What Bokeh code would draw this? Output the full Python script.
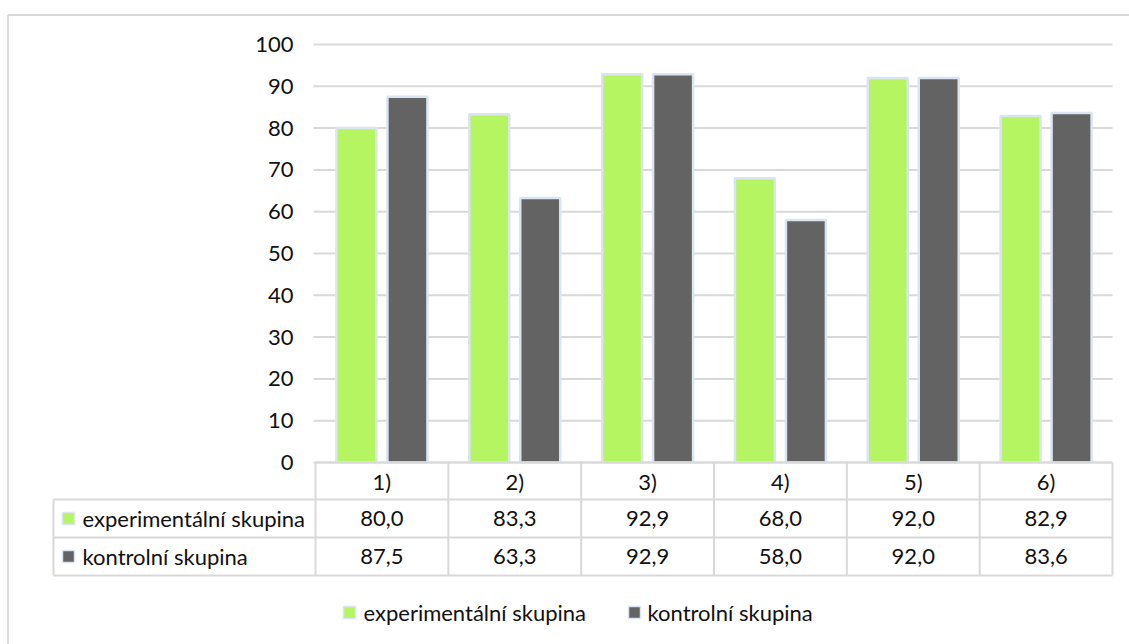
from bokeh.plotting import figure
from bokeh.models import Range1d, ColumnDataSource
from bokeh.core.properties import value
from bokeh.embed import file_html
from bokeh.resources import INLINE

# ---- data ----
categories = ["1)", "2)", "3)", "4)", "5)", "6)"]
series_names = ["experimentální skupina", "kontrolní skupina"]
experimental = [80.0, 83.3, 92.9, 68.0, 92.0, 82.9]
control = [87.5, 63.3, 92.9, 58.0, 92.0, 83.6]
y_ticks = [0, 10, 20, 30, 40, 50, 60, 70, 80, 90, 100]

# ---- styling ----
GREEN = "#b6f562"
GRAY = "#636363"
EDGE = "#dbe5f1"
LINE = "#d9d9d9"
FONT = "Lato"
FS = "22px"
TXT = "#111111"

W, H = 1129, 644
OX, OY = 0, 0
# pixel geometry (screen coordinates)
X0, X1 = 315.0, 1112.0          # plot area / table columns
Y0, Y100 = 462.0, 44.0          # value 0 and 100
n = len(categories)
ux = (X1 - X0) / n
uy = (Y0 - Y100) / 100.0

def dx(px):
    return (px - X0) / ux

def dy(py):
    return (Y0 - py) / uy

p = figure(width=W, height=H, output_backend="svg", toolbar_location=None,
           x_range=Range1d(dx(OX), dx(OX + W)), y_range=Range1d(dy(OY + H), dy(OY)),
           x_axis_type=None, y_axis_type=None, min_border=0)
p.outline_line_color = None
p.xgrid.visible = False
p.ygrid.visible = False
p.background_fill_color = "white"
p.border_fill_color = "white"

# outer chart border (left and top visible)
p.segment(x0=[dx(7.5), dx(7.5)], y0=[dy(14.5), dy(14.5)], x1=[dx(7.5), dx(1140)], y1=[dy(700), dy(14.5)],
          line_color=LINE, line_width=2)

# gridlines
p.segment(x0=[dx(313)] * len(y_ticks), x1=[dx(X1)] * len(y_ticks), y0=y_ticks, y1=y_ticks,
          line_color=LINE, line_width=2)

# y tick labels
p.text(x=[dx(293)] * len(y_ticks), y=y_ticks, text=[str(t) for t in y_ticks],
       text_align="right", text_baseline="middle", text_font=value(FONT),
       text_font_size=FS, text_color=TXT)

# bars
xc = [i + 0.5 for i in range(n)]
off = 25.5 / ux
bw = 40.0 / ux
src = ColumnDataSource(dict(xe=[x - off for x in xc], xk=[x + off for x in xc],
                            e=experimental, k=control))
p.vbar(x="xe", top="e", bottom=0, width=bw, source=src, fill_color=GREEN,
       line_color=EDGE, line_width=2.5)
p.vbar(x="xk", top="k", bottom=0, width=bw, source=src, fill_color=GRAY,
       line_color=EDGE, line_width=2.5)

# data table
rows = [Y0, 499.0, 537.0, 575.0]
p.segment(x0=[0, dx(53), dx(53), dx(53)], x1=[n, n, n, n], y0=[dy(r) for r in rows],
          y1=[dy(r) for r in rows], line_color=LINE, line_width=2)
vx = list(range(n + 1))
p.segment(x0=vx, x1=vx, y0=[0] * len(vx), y1=[dy(575)] * len(vx), line_color=LINE, line_width=2)
p.segment(x0=[dx(53)], x1=[dx(53)], y0=[dy(499)], y1=[dy(575)], line_color=LINE, line_width=2)

# header labels
p.text(x=xc, y=[dy(481)] * n, text=categories, text_align="center", text_baseline="middle",
       text_font=value(FONT), text_font_size=FS, text_color=TXT)

def fmt(v):
    return f"{v:.1f}".replace(".", ",")

p.text(x=xc, y=[dy(518)] * n, text=[fmt(v) for v in experimental], text_align="center",
       text_baseline="middle", text_font=value(FONT), text_font_size=FS, text_color=TXT)
p.text(x=xc, y=[dy(556)] * n, text=[fmt(v) for v in control], text_align="center",
       text_baseline="middle", text_font=value(FONT), text_font_size=FS, text_color=TXT)

# row labels with keys
p.rect(x=[dx(68), dx(68)], y=[dy(518), dy(556)], width=12 / ux, height=12 / uy,
       fill_color=[GREEN, GRAY], line_color=EDGE, line_width=1.5)
p.text(x=[dx(82), dx(82)], y=[dy(518), dy(556)], text=series_names, text_align="left",
       text_baseline="middle", text_font=value(FONT), text_font_size=FS, text_color=TXT)

# legend
p.rect(x=[dx(349), dx(634)], y=[dy(612), dy(612)], width=12 / ux, height=12 / uy,
       fill_color=[GREEN, GRAY], line_color=EDGE, line_width=1.5)
p.text(x=[dx(363), dx(647)], y=[dy(612), dy(612)], text=series_names, text_align="left",
       text_baseline="middle", text_font=value(FONT), text_font_size=FS, text_color=TXT)

open("out.html", "w").write(file_html(p, INLINE))
